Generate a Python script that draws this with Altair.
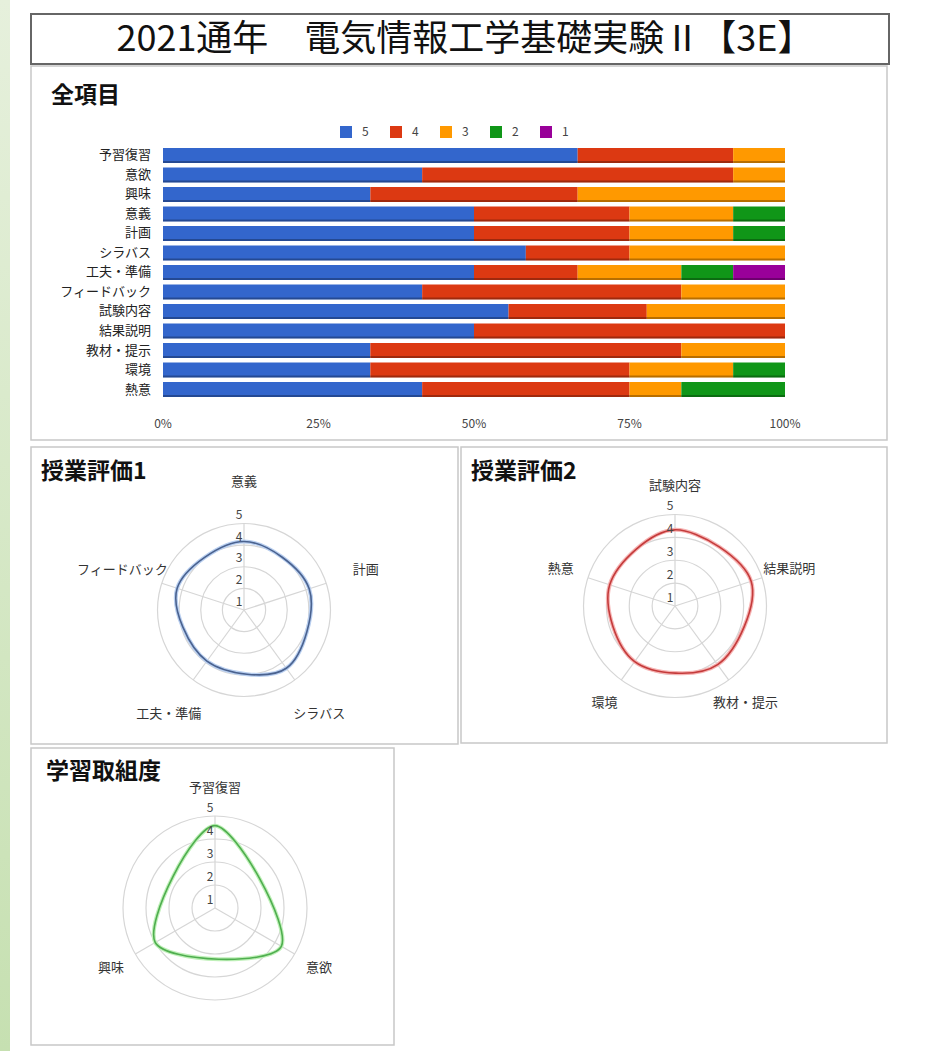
import math
import pandas as pd
import altair as alt

FONT = "Noto Sans CJK JP"

# ---------------- data ----------------
main_title = "2021通年　電気情報工学基礎実験Ⅱ【3E】"

bar_title = "全項目"
items = ["予習復習", "意欲", "興味", "意義", "計画", "シラバス", "工夫・準備",
         "フィードバック", "試験内容", "結果説明", "教材・提示", "環境", "熱意"]
count5 = [8, 5, 4, 6, 6, 7, 6, 5, 5, 6, 4, 4, 5]
count4 = [3, 6, 4, 3, 3, 2, 2, 5, 2, 6, 6, 5, 4]
count3 = [1, 1, 4, 2, 2, 3, 2, 2, 2, 0, 2, 2, 1]
count2 = [0, 0, 0, 1, 1, 0, 1, 0, 0, 0, 0, 1, 2]
count1 = [0, 0, 0, 0, 0, 0, 1, 0, 0, 0, 0, 0, 0]
score_labels = ["5", "4", "3", "2", "1"]
score_colors = ["#3366cc", "#dc3912", "#ff9900", "#109618", "#990099"]
pct_ticks = [0, 0.25, 0.5, 0.75, 1.0]

r1_title = "授業評価1"
r1_cats = ["意義", "計画", "シラバス", "工夫・準備", "フィードバック"]
r1_vals = [4.17, 4.17, 4.33, 3.92, 4.25]

r2_title = "授業評価2"
r2_cats = ["試験内容", "結果説明", "教材・提示", "環境", "熱意"]
r2_vals = [4.33, 4.5, 4.17, 4.0, 4.0]

r3_title = "学習取組度"
r3_cats = ["予習復習", "意欲", "興味"]
r3_vals = [4.58, 4.33, 4.0]

radar_ticks = [1, 2, 3, 4, 5]
radar_rings = [2, 3, 4, 5]

# ---------------- helpers ----------------
NOSTROKE = alt.ViewBackground(stroke="transparent", strokeWidth=0)
PANEL = alt.ViewBackground(stroke="#c8c8c8", strokeWidth=1.5, strokeOpacity=1, fill="white")


def panel_title(text, x, y):
    return alt.Chart(pd.DataFrame({"t": [text]})).mark_text(
        align="left", baseline="middle", font=FONT, fontSize=23,
        fontWeight="bold", color="#111"
    ).encode(x=alt.value(x), y=alt.value(y), text="t:N")


# ---------------- title box ----------------
TW, TH = 858, 50
title_chart = alt.Chart(pd.DataFrame({"t": [main_title]})).mark_text(
    align="center", baseline="middle", font=FONT, fontSize=36, color="#111"
).encode(x=alt.value(434), y=alt.value(26), text="t:N").properties(
    width=TW, height=TH,
    view=alt.ViewBackground(stroke="#666666", strokeWidth=2, strokeOpacity=1, fill="white"))

# ---------------- stacked bar panel ----------------
BW, BH = 856, 374
bx0, bx1 = 132.0, 754.0
row0, rstep = 86.7, 20.05
xs = alt.Scale(domain=[-bx0 / (bx1 - bx0), (BW - bx0) / (bx1 - bx0)], nice=False, zero=False)
ys = alt.Scale(domain=[-row0 / rstep, (BH - row0) / rstep], reverse=True, nice=False, zero=False)

rows = []
for i, it in enumerate(items):
    for s, cl in zip(score_labels, [count5, count4, count3, count2, count1]):
        rows.append({"item": it, "idx": i, "score": s, "count": cl[i]})
bar_df = pd.DataFrame(rows)

stacked = alt.Chart(bar_df).transform_stack(
    stack="count", groupby=["item"], as_=["x0", "x1"], offset="normalize",
    sort=[alt.SortField("score", order="descending")])

bars = stacked.mark_bar(height=15).encode(
    x=alt.X("x0:Q", scale=xs, axis=None),
    x2="x1:Q",
    y=alt.Y("idx:Q", scale=ys, axis=None),
    color=alt.Color("score:N",
                    scale=alt.Scale(domain=score_labels, range=score_colors),
                    legend=alt.Legend(title=None, orient="none", legendX=340, legendY=126,
                                      direction="horizontal", symbolType="square",
                                      symbolSize=144, symbolStrokeWidth=0,
                                      labelFont=FONT, labelFontSize=12, labelColor="#444",
                                      labelOffset=10, columnPadding=21, padding=0)),
)
shadow = stacked.mark_bar(height=2, yOffset=6.5, color="#000000", opacity=0.28).encode(
    x=alt.X("x0:Q", scale=xs, axis=None),
    x2="x1:Q",
    y=alt.Y("idx:Q", scale=ys, axis=None),
)
cat_labels = alt.Chart(pd.DataFrame({"item": items, "idx": list(range(len(items)))})).mark_text(
    align="right", baseline="middle", font=FONT, fontSize=13, color="#222"
).encode(x=alt.value(120), y=alt.Y("idx:Q", scale=ys, axis=None), text="item:N")
pct_labels = alt.Chart(pd.DataFrame({"t": pct_ticks})).mark_text(
    align="center", baseline="middle", font=FONT, fontSize=12, color="#444"
).encode(x=alt.X("t:Q", scale=xs, axis=None), y=alt.value(358),
         text=alt.Text("t:Q", format=".0%"))

bar_panel = alt.layer(
    bars, shadow, cat_labels, pct_labels, panel_title(bar_title, 20, 30)
).properties(width=BW, height=BH, view=PANEL)


# ---------------- radar panels ----------------
def radar(title, cats, vals, line_color, halo_color, W, H, cx, cy, R, L, tx, ty):
    n = len(cats)
    rx = alt.Scale(domain=[-cx / R, (W - cx) / R], nice=False, zero=False)
    ry = alt.Scale(domain=[-(H - cy) / R, cy / R], nice=False, zero=False)
    X = lambda f: alt.X(f, scale=rx, axis=None)
    Y = lambda f: alt.Y(f, scale=ry, axis=None)

    pts = alt.Chart(pd.DataFrame({"cat": cats, "val": vals, "idx": list(range(n))})).transform_calculate(
        a=f"2*PI*datum.idx/{n}",
        r="(datum.val-1)/4",
        px="datum.r*sin(datum.a)",
        py="datum.r*cos(datum.a)",
        ox="sin(datum.a)",
        oy="cos(datum.a)",
        lx=f"{L / R}*sin(datum.a)",
        ly=f"{L / R}*cos(datum.a)",
        z="0",
    )
    # ring circles: symbol size = (2 * radius_px)^2
    rings = alt.Chart(pd.DataFrame({"ring": radar_rings})).transform_calculate(
        z="0", s=f"pow(2*{R}*(datum.ring-1)/4, 2)"
    ).mark_point(shape="circle", filled=False, color="#d6d6d6", strokeWidth=1.2, opacity=1).encode(
        x=X("z:Q"), y=Y("z:Q"), size=alt.Size("s:Q", scale=None, legend=None))
    spokes = pts.mark_rule(color="#d6d6d6", strokeWidth=1.2).encode(
        x=X("z:Q"), y=Y("z:Q"), x2="ox:Q", y2="oy:Q")
    halo = pts.mark_line(interpolate="cardinal-closed", color=halo_color, strokeWidth=4).encode(
        x=X("px:Q"), y=Y("py:Q"), order="idx:Q")
    line = pts.mark_line(interpolate="cardinal-closed", color=line_color, strokeWidth=1.6).encode(
        x=X("px:Q"), y=Y("py:Q"), order="idx:Q")
    ticks = alt.Chart(pd.DataFrame({"t": radar_ticks})).transform_calculate(
        ty="(datum.t-1)/4", z="0"
    ).mark_text(align="center", baseline="middle", font=FONT, fontSize=12, color="#444",
                dx=-5, dy=-8.5).encode(x=X("z:Q"), y=Y("ty:Q"), text="t:Q")
    labels = pts.mark_text(align="center", baseline="middle", font=FONT, fontSize=13,
                           color="#333").encode(x=X("lx:Q"), y=Y("ly:Q"), text="cat:N")
    return alt.layer(rings, spokes, halo, line, ticks, labels, panel_title(title, tx, ty)).properties(
        width=W, height=H, view=PANEL)


radar1 = radar(r1_title, r1_cats, r1_vals, "#4a628f", "#b9cff0", 427, 297, 213, 163, 86.5, 128, 10, 25)
radar2 = radar(r2_title, r2_cats, r2_vals, "#c43b3b", "#f6b3b3", 426, 296, 214, 159, 91.5, 120, 10, 25)
radar3 = radar(r3_title, r3_cats, r3_vals, "#4fae4f", "#bff0b8", 363, 297, 184, 160, 92, 120, 15, 24)

# ---------------- layout ----------------
spacer = alt.Chart(pd.DataFrame({"a": [0]})).mark_rect(opacity=0).encode(
    x=alt.value(0), x2=alt.value("width"), y=alt.value(0), y2=alt.value("height")
).properties(width=TW, height=13, view=NOSTROKE)

strip = alt.Chart(pd.DataFrame({"a": [0]})).mark_rect(
    color=alt.Gradient(gradient="linear",
                       stops=[alt.GradientStop(color="#e6f0dc", offset=0),
                              alt.GradientStop(color="#c6e0b1", offset=1)],
                       x1=0, x2=0, y1=0, y2=1)
).encode(x=alt.value(0), x2=alt.value("width"), y=alt.value(0), y2=alt.value("height")).properties(
    width=10, height=1051, view=NOSTROKE)

row = alt.hconcat(radar1, radar2, spacing=1)
lower2 = alt.vconcat(row, radar3, spacing=2)
lower = alt.vconcat(bar_panel, lower2, spacing=5)
main = alt.vconcat(spacer, title_chart, lower, spacing=0)

chart = alt.hconcat(strip, main, spacing=20).properties(
    padding=0, background="white"
).configure_view(stroke="transparent")

chart.save("out.html", embed_options={"renderer": "svg", "actions": False})
